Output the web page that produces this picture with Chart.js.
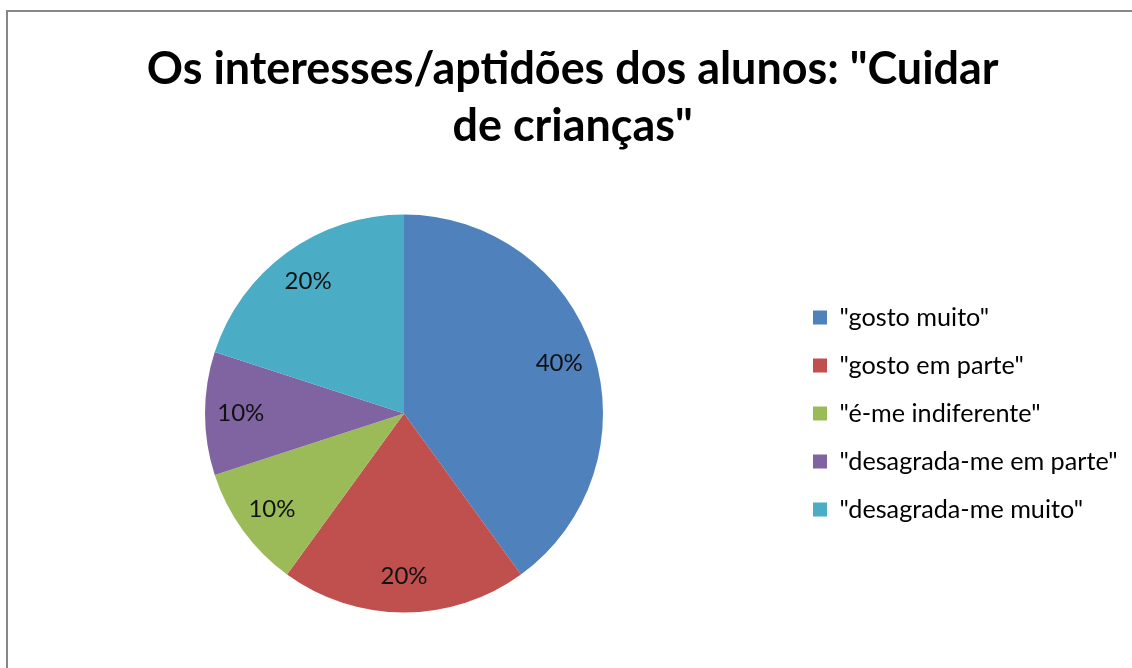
<!DOCTYPE html>
<html>
<head>
<meta charset="utf-8">
<script src="https://cdn.jsdelivr.net/npm/chart.js@4/dist/chart.umd.min.js"></script>
<style>
  html, body { margin: 0; padding: 0; background: #ffffff; overflow: hidden; width: 1132px; height: 668px; }
  #frame { position: fixed; left: 6px; top: 10px; width: 1200px; height: 700px; border-left: 2px solid #878787; border-top: 2px solid #878787; box-sizing: border-box; }
  #c { position: fixed; left: 0; top: 0; }
</style>
</head>
<body>
<div id="frame"></div>
<canvas id="c" width="1132" height="668"></canvas>
<script>
// ---- data ----
const titleLines = ['Os interesses/aptidões dos alunos: "Cuidar', 'de crianças"'];
const categories = ['"gosto muito"', '"gosto em parte"', '"é-me indiferente"', '"desagrada-me em parte"', '"desagrada-me muito"'];
const values = [40, 20, 10, 10, 20];
const colors = ['#4F81BD', '#C0504D', '#9BBB59', '#8064A2', '#4BACC6'];

// ---- font sizing from measurement ----
const FAMILY = 'Lato, Carlito, Calibri, "Open Sans", sans-serif';
const mctx = document.createElement('canvas').getContext('2d');
function measure(txt, size, weight) {
  mctx.font = (weight || 'normal') + ' ' + size + 'px ' + FAMILY;
  return mctx.measureText(txt).width;
}
const titleSize = Math.round(40 * 852 / measure(titleLines[0], 40, 'bold') * 10) / 10;
const legendSize = Math.round(20 * 278 / measure(categories[3], 20) * 10) / 10;
const labelSize = Math.round(20 * 47 / measure('40%', 20) * 10) / 10;

const legendPad = 48 - legendSize;
const boxW = 14;
const longest = Math.max(...categories.map(c => measure(c, legendSize)));
const padLeft = 808 - (813 - legendPad);
const padRight = 1132 - 813 - boxW - legendSize / 2 - longest - 10;

const pctLabels = {
  id: 'pctLabels',
  afterDatasetsDraw(chart) {
    const ctx = chart.ctx;
    const meta = chart.getDatasetMeta(0);
    const data = chart.data.datasets[0].data;
    const total = data.reduce((a, b) => a + b, 0);
    ctx.save();
    ctx.font = 'normal ' + labelSize + 'px ' + FAMILY;
    ctx.fillStyle = '#111111';
    ctx.textAlign = 'center';
    ctx.textBaseline = 'middle';
    meta.data.forEach((arc, i) => {
      const p = arc.getProps(['x', 'y', 'startAngle', 'endAngle', 'outerRadius'], true);
      const mid = (p.startAngle + p.endAngle) / 2;
      const r = p.outerRadius * 0.82;
      const pct = Math.round(data[i] / total * 100) + '%';
      ctx.fillText(pct, p.x + Math.cos(mid) * r, p.y + Math.sin(mid) * r);
    });
    ctx.restore();
  }
};

new Chart(document.getElementById('c'), {
  type: 'pie',
  data: {
    labels: categories,
    datasets: [{
      data: values,
      backgroundColor: colors,
      borderWidth: 0
    }]
  },
  options: {
    responsive: false,
    devicePixelRatio: 1,
    animation: false,
    layout: { padding: { top: 0, bottom: 55.5, left: padLeft, right: padRight } },
    plugins: {
      tooltip: { enabled: false },
      title: {
        display: true,
        text: titleLines,
        color: '#000000',
        font: { family: FAMILY, size: titleSize, weight: 'bold', lineHeight: '57px' },
        padding: { top: 41.5, bottom: 59 }
      },
      legend: {
        display: true,
        position: 'right',
        align: 'center',
        fullSize: false,
        labels: {
          color: '#000000',
          boxWidth: boxW,
          boxHeight: boxW,
          padding: legendPad,
          font: { family: FAMILY, size: legendSize }
        }
      }
    }
  },
  plugins: [pctLabels]
});
</script>
</body>
</html>
